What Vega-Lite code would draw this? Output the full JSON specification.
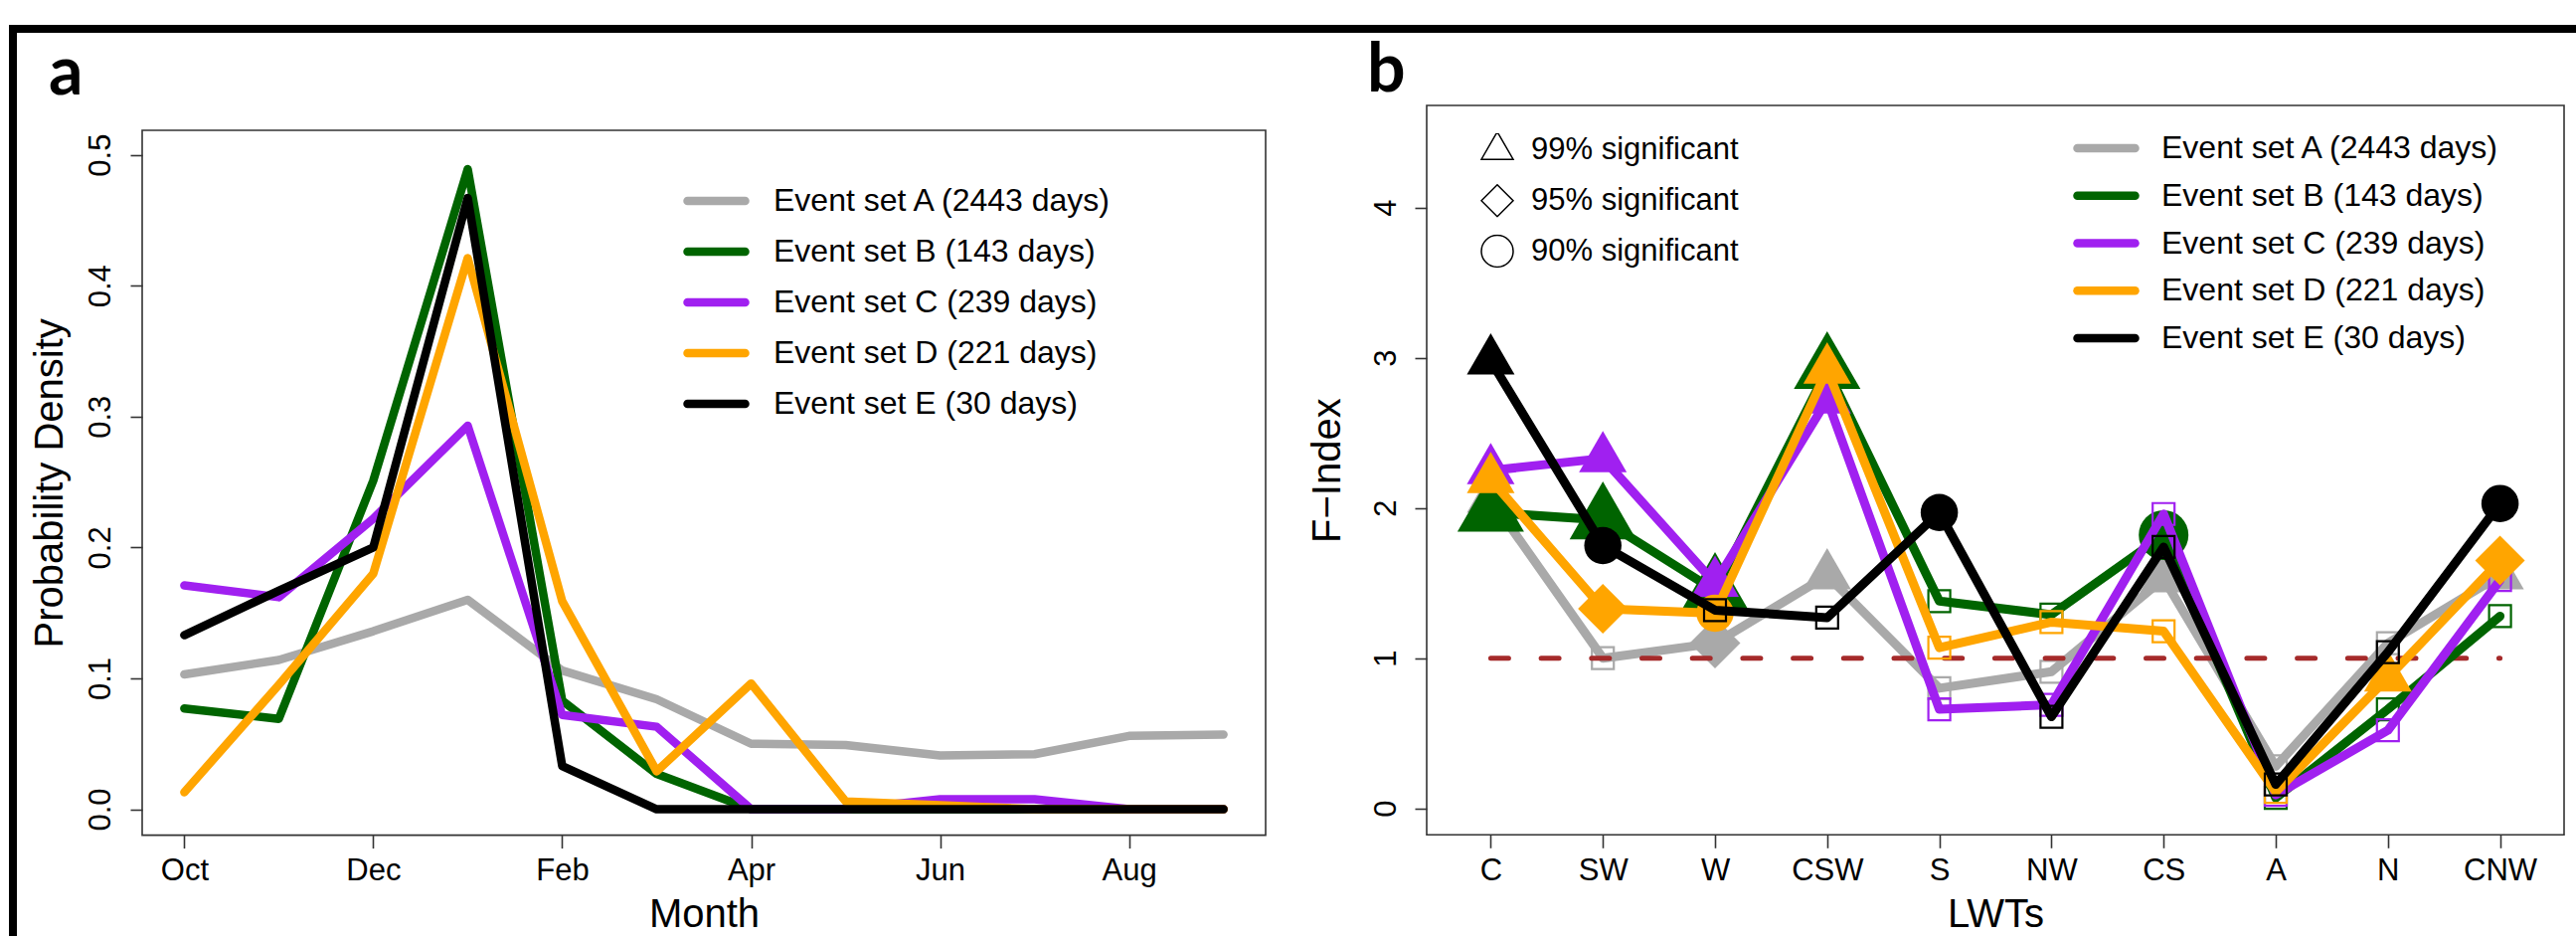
{
  "$schema": "https://vega.github.io/schema/vega-lite/v6.json",
  "padding": {"left": 9, "top": 25, "right": 0, "bottom": 0},
  "background": "white",
  "config": {
    "view": {"stroke": "#333333", "strokeWidth": 1.6},
    "font": "Liberation Sans",
    "axis": {"labelFont": "Liberation Sans", "labelFontSize": 31, "labelColor": "black", "titleFont": "Liberation Sans", "titleFontSize": 40, "titleFontWeight": "normal", "titleColor": "black", "tickColor": "#333333", "tickWidth": 1.6, "domain": false, "grid": false, "labelFlush": false, "labelOverlap": false, "labelBound": false},
    "legend": {"labelFont": "Liberation Sans", "labelFontSize": 32, "labelColor": "black", "labelLimit": 0, "padding": 0},
    "title": {"font": "Lato", "fontWeight": "bold", "fontSize": 68, "color": "black", "anchor": "start", "frame": "group", "baseline": "alphabetic"}
  },
  "datasets": {
    "fa": [
      {"s":"A","m":"Oct","v":0.103},{"s":"A","m":"Nov","v":0.114},{"s":"A","m":"Dec","v":0.136},{"s":"A","m":"Jan","v":0.160},{"s":"A","m":"Feb","v":0.106},{"s":"A","m":"Mar","v":0.084},{"s":"A","m":"Apr","v":0.050},{"s":"A","m":"May","v":0.049},{"s":"A","m":"Jun","v":0.041},{"s":"A","m":"Jul","v":0.042},{"s":"A","m":"Aug","v":0.056},{"s":"A","m":"Sep","v":0.057},
      {"s":"B","m":"Oct","v":0.077},{"s":"B","m":"Nov","v":0.069},{"s":"B","m":"Dec","v":0.251},{"s":"B","m":"Jan","v":0.489},{"s":"B","m":"Feb","v":0.083},{"s":"B","m":"Mar","v":0.027},{"s":"B","m":"Apr","v":0.0},{"s":"B","m":"May","v":0.0},{"s":"B","m":"Jun","v":0.0},{"s":"B","m":"Jul","v":0.0},{"s":"B","m":"Aug","v":0.0},{"s":"B","m":"Sep","v":0.0},
      {"s":"C","m":"Oct","v":0.171},{"s":"C","m":"Nov","v":0.162},{"s":"C","m":"Dec","v":0.222},{"s":"C","m":"Jan","v":0.293},{"s":"C","m":"Feb","v":0.072},{"s":"C","m":"Mar","v":0.063},{"s":"C","m":"Apr","v":0.0},{"s":"C","m":"May","v":0.0},{"s":"C","m":"Jun","v":0.0076},{"s":"C","m":"Jul","v":0.0076},{"s":"C","m":"Aug","v":0.0},{"s":"C","m":"Sep","v":0.0},
      {"s":"D","m":"Oct","v":0.013},{"s":"D","m":"Nov","v":0.095},{"s":"D","m":"Dec","v":0.180},{"s":"D","m":"Jan","v":0.421},{"s":"D","m":"Feb","v":0.159},{"s":"D","m":"Mar","v":0.029},{"s":"D","m":"Apr","v":0.096},{"s":"D","m":"May","v":0.006},{"s":"D","m":"Jun","v":0.003},{"s":"D","m":"Jul","v":0.0},{"s":"D","m":"Aug","v":0.0},{"s":"D","m":"Sep","v":0.0},
      {"s":"E","m":"Oct","v":0.133},{"s":"E","m":"Nov","v":0.167},{"s":"E","m":"Dec","v":0.200},{"s":"E","m":"Jan","v":0.467},{"s":"E","m":"Feb","v":0.033},{"s":"E","m":"Mar","v":0.0},{"s":"E","m":"Apr","v":0.0},{"s":"E","m":"May","v":0.0},{"s":"E","m":"Jun","v":0.0},{"s":"E","m":"Jul","v":0.0},{"s":"E","m":"Aug","v":0.0},{"s":"E","m":"Sep","v":0.0}
    ],
    "fb": [
      {"s":"A","lwt":"C","f":2.06,"sig":"t"},{"s":"A","lwt":"SW","f":1.0,"sig":"n"},{"s":"A","lwt":"W","f":1.10,"sig":"d"},{"s":"A","lwt":"CSW","f":1.55,"sig":"t"},{"s":"A","lwt":"S","f":0.80,"sig":"n"},{"s":"A","lwt":"NW","f":0.91,"sig":"n"},{"s":"A","lwt":"CS","f":1.53,"sig":"t"},{"s":"A","lwt":"A","f":0.28,"sig":"n"},{"s":"A","lwt":"N","f":1.10,"sig":"n"},{"s":"A","lwt":"CNW","f":1.55,"sig":"t"},
      {"s":"B","lwt":"C","f":1.97,"sig":"t"},{"s":"B","lwt":"SW","f":1.92,"sig":"t"},{"s":"B","lwt":"W","f":1.45,"sig":"t"},{"s":"B","lwt":"CSW","f":2.92,"sig":"t"},{"s":"B","lwt":"S","f":1.38,"sig":"n"},{"s":"B","lwt":"NW","f":1.29,"sig":"n"},{"s":"B","lwt":"CS","f":1.82,"sig":"c"},{"s":"B","lwt":"A","f":0.07,"sig":"n"},{"s":"B","lwt":"N","f":0.66,"sig":"n"},{"s":"B","lwt":"CNW","f":1.28,"sig":"n"},
      {"s":"C","lwt":"C","f":2.25,"sig":"t"},{"s":"C","lwt":"SW","f":2.33,"sig":"t"},{"s":"C","lwt":"W","f":1.50,"sig":"t"},{"s":"C","lwt":"CSW","f":2.72,"sig":"t"},{"s":"C","lwt":"S","f":0.66,"sig":"n"},{"s":"C","lwt":"NW","f":0.69,"sig":"n"},{"s":"C","lwt":"CS","f":1.96,"sig":"n"},{"s":"C","lwt":"A","f":0.09,"sig":"n"},{"s":"C","lwt":"N","f":0.52,"sig":"n"},{"s":"C","lwt":"CNW","f":1.52,"sig":"n"},
      {"s":"D","lwt":"C","f":2.19,"sig":"t"},{"s":"D","lwt":"SW","f":1.33,"sig":"d"},{"s":"D","lwt":"W","f":1.30,"sig":"c"},{"s":"D","lwt":"CSW","f":2.92,"sig":"t"},{"s":"D","lwt":"S","f":1.07,"sig":"n"},{"s":"D","lwt":"NW","f":1.24,"sig":"n"},{"s":"D","lwt":"CS","f":1.18,"sig":"n"},{"s":"D","lwt":"A","f":0.11,"sig":"n"},{"s":"D","lwt":"N","f":0.87,"sig":"t"},{"s":"D","lwt":"CNW","f":1.65,"sig":"d"},
      {"s":"E","lwt":"C","f":2.98,"sig":"t"},{"s":"E","lwt":"SW","f":1.75,"sig":"c"},{"s":"E","lwt":"W","f":1.32,"sig":"n"},{"s":"E","lwt":"CSW","f":1.27,"sig":"n"},{"s":"E","lwt":"S","f":1.97,"sig":"c"},{"s":"E","lwt":"NW","f":0.61,"sig":"n"},{"s":"E","lwt":"CS","f":1.74,"sig":"n"},{"s":"E","lwt":"A","f":0.16,"sig":"n"},{"s":"E","lwt":"N","f":1.04,"sig":"n"},{"s":"E","lwt":"CNW","f":2.03,"sig":"c"}
    ]
  },
  "resolve": {"scale": {"color": "independent", "shape": "independent", "size": "independent"}},
  "spacing": 0,
  "vconcat": [
    {
      "width": 2582, "height": 8,
      "data": {"values": [{"k": 1}]},
      "mark": {"type": "rect", "color": "black"},
      "encoding": {},
      "view": {"stroke": null, "fill": "black"}
    },
    {
      "resolve": {"scale": {"color": "independent", "shape": "independent", "size": "independent"}},
      "spacing": 12,
      "hconcat": [
        {
          "width": 8, "height": 908,
          "data": {"values": [{"k": 1}]},
          "mark": {"type": "rect", "color": "black"},
          "encoding": {},
          "view": {"stroke": null, "fill": "black"}
        },
        {
          "resolve": {"scale": {"color": "independent", "shape": "independent", "size": "independent"}},
          "spacing": 40,
          "hconcat": [
            {
              "resolve": {"scale": {"color": "independent", "shape": "independent", "size": "independent"}},
              "spacing": 6,
              "vconcat": [
                {"width": 1, "height": 1, "data": {"values": []}, "mark": "point", "encoding": {}, "view": {"stroke": null}},
                {
                  "width": 1130, "height": 708.6,
                  "title": {"text": "a", "dx": -94, "offset": 21.7},
                  "data": {"name": "fa"},
                  "encoding": {
                    "x": {"field": "m", "type": "nominal", "sort": ["Oct","Nov","Dec","Jan","Feb","Mar","Apr","May","Jun","Jul","Aug","Sep"], "scale": {"type": "point", "padding": 0.446, "domain": ["Oct","Nov","Dec","Jan","Feb","Mar","Apr","May","Jun","Jul","Aug","Sep"]}, "axis": {"values": ["Oct","Dec","Feb","Apr","Jun","Aug"], "labelAngle": 0, "tickSize": 13, "labelPadding": 8, "title": "Month", "titlePadding": 9}},
                    "y": {"field": "v", "type": "quantitative", "scale": {"domain": [-0.0198, 0.5187], "nice": false, "zero": false}, "axis": {"values": [0, 0.1, 0.2, 0.3, 0.4, 0.5], "format": ".1f", "labelAngle": -90, "labelAlign": "center", "labelBaseline": "bottom", "tickSize": 12, "labelPadding": 14, "title": "Probability Density", "titlePadding": 15}},
                    "color": {"field": "s", "type": "nominal", "scale": {"domain": ["A","B","C","D","E"], "range": ["#A9A9A9","#006400","#A020F0","#FFA500","#000000"]},
                      "legend": {"orient": "none", "legendX": 544, "legendY": 54, "title": null, "symbolType": "stroke", "symbolSize": 3364, "symbolStrokeWidth": 8.5, "clipHeight": 34, "rowPadding": 17, "labelOffset": 24,
                        "labelExpr": "datum.value === 'A' ? 'Event set A (2443 days)' : datum.value === 'B' ? 'Event set B (143 days)' : datum.value === 'C' ? 'Event set C (239 days)' : datum.value === 'D' ? 'Event set D (221 days)' : 'Event set E (30 days)'",
                        "encode": {"symbols": {"update": {"strokeCap": {"value": "round"}, "opacity": {"value": 1}}}}}}
                  },
                  "layer": [
                    {"transform": [{"filter": {"field": "s", "equal": "A"}}], "mark": {"type": "line", "strokeWidth": 8.5, "strokeCap": "round", "strokeJoin": "round"}},
                    {"transform": [{"filter": {"field": "s", "equal": "B"}}], "mark": {"type": "line", "strokeWidth": 8.5, "strokeCap": "round", "strokeJoin": "round"}},
                    {"transform": [{"filter": {"field": "s", "equal": "C"}}], "mark": {"type": "line", "strokeWidth": 8.5, "strokeCap": "round", "strokeJoin": "round"}},
                    {"transform": [{"filter": {"field": "s", "equal": "D"}}], "mark": {"type": "line", "strokeWidth": 8.5, "strokeCap": "round", "strokeJoin": "round"}},
                    {"transform": [{"filter": {"field": "s", "equal": "E"}}], "mark": {"type": "line", "strokeWidth": 8.5, "strokeCap": "round", "strokeJoin": "round"}}
                  ]
                }
              ]
            },
            {
              "resolve": {"scale": {"color": "independent", "shape": "independent", "size": "independent"}},
              "spacing": 3,
              "vconcat": [
                {"width": 1, "height": 1, "data": {"values": []}, "mark": "point", "encoding": {}, "view": {"stroke": null}},
                {
                  "width": 1144, "height": 733.3,
                  "title": {"text": "b", "dx": -60, "offset": 0},
                  "data": {"name": "fb"},
                  "encoding": {
                    "x": {"field": "lwt", "type": "nominal", "sort": ["C","SW","W","CSW","S","NW","CS","A","N","CNW"], "scale": {"type": "point", "padding": 0.571, "domain": ["C","SW","W","CSW","S","NW","CS","A","N","CNW"]}, "axis": {"labelAngle": 0, "tickSize": 13, "labelPadding": 8, "title": "LWTs", "titlePadding": 9}},
                    "y": {"field": "f", "type": "quantitative", "scale": {"domain": [-0.176, 4.68], "nice": false, "zero": false}, "axis": {"values": [0, 1, 2, 3, 4], "labelAngle": -90, "labelAlign": "center", "labelBaseline": "bottom", "tickSize": 12, "labelPadding": 13, "title": "F−Index", "titlePadding": 23}}
                  },
                  "resolve": {"scale": {"size": "independent"}},
                  "layer": [
                    {"transform": [{"filter": {"field": "s", "equal": "A"}}], "mark": {"type": "line", "strokeWidth": 9, "strokeCap": "round", "strokeJoin": "round"},
                     "encoding": {"color": {"field": "s", "type": "nominal", "scale": {"domain": ["A","B","C","D","E"], "range": ["#A9A9A9","#006400","#A020F0","#FFA500","#000000"]},
                      "legend": {"orient": "none", "legendX": 650, "legendY": 26, "title": null, "symbolType": "stroke", "symbolSize": 3364, "symbolStrokeWidth": 8.5, "clipHeight": 34, "rowPadding": 13.75, "labelOffset": 22,
                        "labelExpr": "datum.value === 'A' ? 'Event set A (2443 days)' : datum.value === 'B' ? 'Event set B (143 days)' : datum.value === 'C' ? 'Event set C (239 days)' : datum.value === 'D' ? 'Event set D (221 days)' : 'Event set E (30 days)'",
                        "encode": {"symbols": {"update": {"strokeCap": {"value": "round"}, "opacity": {"value": 1}}}}}}}},
                    {"transform": [{"filter": {"field": "s", "equal": "A"}}], "mark": {"type": "point", "opacity": 1},
                     "encoding": {
                       "shape": {"field": "sig", "type": "nominal", "scale": {"domain": ["t","d","c","n"], "range": ["M0,-1.1547L1,0.5774L-1,0.5774Z", "diamond", "circle", "square"]},
                         "legend": {"orient": "none", "legendX": 54, "legendY": 28, "title": null, "values": ["t","d","c"], "clipHeight": 34, "rowPadding": 16.75, "labelOffset": 17, "labelFontSize": 31, "symbolSize": 1024, "symbolStrokeWidth": 1.5, "symbolStrokeColor": "black", "symbolFillColor": "transparent",
                           "labelExpr": "datum.value === 't' ? '99% significant' : datum.value === 'd' ? '95% significant' : '90% significant'",
                           "encode": {"symbols": {"update": {"fill": {"value": "transparent"}, "stroke": {"value": "black"}, "strokeWidth": {"value": 1.5}, "opacity": {"value": 1}, "size": {"value": 1024}}}}}},
                       "size": {"field": "sig", "type": "nominal", "scale": {"type": "ordinal", "domain": ["t","d","c","n"], "range": [2304, 2600, 1406, 484]}, "legend": null},
                       "fill": {"condition": {"test": "datum.sig !== 'n'", "value": "#A9A9A9"}, "value": "transparent"},
                       "stroke": {"value": "#A9A9A9"},
                       "strokeWidth": {"condition": {"test": "datum.sig !== 'n'", "value": 0}, "value": 2.2}
                     }},
                    {"data": {"values": [{"lwt": "C", "f": 1}, {"lwt": "CNW", "f": 1}]}, "mark": {"type": "line", "color": "#A52A2A", "strokeWidth": 5, "strokeDash": [18, 32.7], "strokeCap": "round"}},
                    {"transform": [{"filter": {"field": "s", "equal": "B"}}], "mark": {"type": "line", "strokeWidth": 9, "strokeCap": "round", "strokeJoin": "round"},
                     "encoding": {"color": {"field": "s", "type": "nominal", "scale": {"domain": ["A","B","C","D","E"], "range": ["#A9A9A9","#006400","#A020F0","#FFA500","#000000"]}}}},
                    {"transform": [{"filter": {"field": "s", "equal": "B"}}], "mark": {"type": "point", "opacity": 1},
                     "encoding": {
                       "shape": {"field": "sig", "type": "nominal", "scale": {"domain": ["t","d","c","n"], "range": ["M0,-1.1547L1,0.5774L-1,0.5774Z", "diamond", "circle", "square"]}},
                       "size": {"field": "sig", "type": "nominal", "scale": {"type": "ordinal", "domain": ["t","d","c","n"], "range": [4489, 3400, 2500, 484]}, "legend": null},
                       "fill": {"condition": {"test": "datum.sig !== 'n'", "value": "#006400"}, "value": "transparent"},
                       "stroke": {"value": "#006400"},
                       "strokeWidth": {"condition": {"test": "datum.sig !== 'n'", "value": 0}, "value": 2.2}
                     }},
                    {"transform": [{"filter": {"field": "s", "equal": "C"}}], "mark": {"type": "line", "strokeWidth": 9, "strokeCap": "round", "strokeJoin": "round"},
                     "encoding": {"color": {"field": "s", "type": "nominal", "scale": {"domain": ["A","B","C","D","E"], "range": ["#A9A9A9","#006400","#A020F0","#FFA500","#000000"]}}}},
                    {"transform": [{"filter": {"field": "s", "equal": "C"}}], "mark": {"type": "point", "opacity": 1},
                     "encoding": {
                       "shape": {"field": "sig", "type": "nominal", "scale": {"domain": ["t","d","c","n"], "range": ["M0,-1.1547L1,0.5774L-1,0.5774Z", "diamond", "circle", "square"]}},
                       "size": {"field": "sig", "type": "nominal", "scale": {"type": "ordinal", "domain": ["t","d","c","n"], "range": [2304, 2500, 1406, 484]}, "legend": null},
                       "fill": {"condition": {"test": "datum.sig !== 'n'", "value": "#A020F0"}, "value": "transparent"},
                       "stroke": {"value": "#A020F0"},
                       "strokeWidth": {"condition": {"test": "datum.sig !== 'n'", "value": 0}, "value": 2.2}
                     }},
                    {"transform": [{"filter": {"field": "s", "equal": "D"}}], "mark": {"type": "line", "strokeWidth": 9, "strokeCap": "round", "strokeJoin": "round"},
                     "encoding": {"color": {"field": "s", "type": "nominal", "scale": {"domain": ["A","B","C","D","E"], "range": ["#A9A9A9","#006400","#A020F0","#FFA500","#000000"]}}}},
                    {"transform": [{"filter": {"field": "s", "equal": "D"}}], "mark": {"type": "point", "opacity": 1},
                     "encoding": {
                       "shape": {"field": "sig", "type": "nominal", "scale": {"domain": ["t","d","c","n"], "range": ["M0,-1.1547L1,0.5774L-1,0.5774Z", "diamond", "circle", "square"]}},
                       "size": {"field": "sig", "type": "nominal", "scale": {"type": "ordinal", "domain": ["t","d","c","n"], "range": [2304, 2500, 1406, 484]}, "legend": null},
                       "fill": {"condition": {"test": "datum.sig !== 'n'", "value": "#FFA500"}, "value": "transparent"},
                       "stroke": {"value": "#FFA500"},
                       "strokeWidth": {"condition": {"test": "datum.sig !== 'n'", "value": 0}, "value": 2.2}
                     }},
                    {"transform": [{"filter": {"field": "s", "equal": "E"}}], "mark": {"type": "line", "strokeWidth": 9, "strokeCap": "round", "strokeJoin": "round"},
                     "encoding": {"color": {"field": "s", "type": "nominal", "scale": {"domain": ["A","B","C","D","E"], "range": ["#A9A9A9","#006400","#A020F0","#FFA500","#000000"]}}}},
                    {"transform": [{"filter": {"field": "s", "equal": "E"}}], "mark": {"type": "point", "opacity": 1},
                     "encoding": {
                       "shape": {"field": "sig", "type": "nominal", "scale": {"domain": ["t","d","c","n"], "range": ["M0,-1.1547L1,0.5774L-1,0.5774Z", "diamond", "circle", "square"]}},
                       "size": {"field": "sig", "type": "nominal", "scale": {"type": "ordinal", "domain": ["t","d","c","n"], "range": [2304, 2500, 1406, 484]}, "legend": null},
                       "fill": {"condition": {"test": "datum.sig !== 'n'", "value": "#000000"}, "value": "transparent"},
                       "stroke": {"value": "#000000"},
                       "strokeWidth": {"condition": {"test": "datum.sig !== 'n'", "value": 0}, "value": 2.2}
                     }}
                  ]
                }
              ]
            }
          ]
        }
      ]
    }
  ]
}
